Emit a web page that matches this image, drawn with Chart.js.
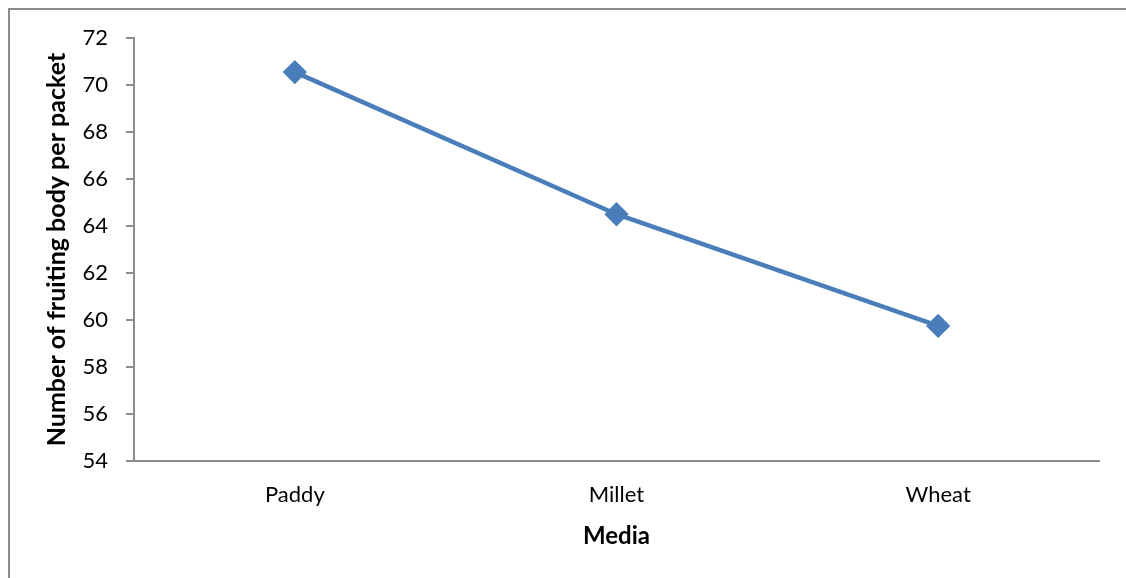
<!DOCTYPE html>
<html>
<head>
<meta charset="utf-8">
<script src="https://cdn.jsdelivr.net/npm/chart.js@4"></script>
<style>
  html, body { margin: 0; padding: 0; background: #fff; overflow: hidden; }
  .frame { position: absolute; left: 8px; top: 8px; width: 1200px; height: 700px; border: 2px solid #8c8c8c; box-sizing: border-box; }
  .wrap { position: absolute; left: 0; top: 0; width: 1126px; height: 578px; }
</style>
</head>
<body>
<div class="frame"></div>
<div class="wrap"><canvas id="chart" role="img" aria-label="Number of fruiting body per packet by media"></canvas></div>
<script>
// Data
const media = ['Paddy', 'Millet', 'Wheat'];
const fruitingBodies = [70.55, 64.5, 59.75];
const yTicks = [54, 56, 58, 60, 62, 64, 66, 68, 70, 72];

const axisGrey = '#8c8c8c';
const lineBlue = '#4a7ebb';

new Chart(document.getElementById('chart'), {
  type: 'line',
  data: {
    labels: media,
    datasets: [{
      label: 'Fruiting body',
      data: fruitingBodies,
      borderColor: lineBlue,
      backgroundColor: lineBlue,
      borderWidth: 4.5,
      pointStyle: 'rectRot',
      pointRadius: 9,
      pointHoverRadius: 9,
      tension: 0
    }]
  },
  options: {
    responsive: true,
    maintainAspectRatio: false,
    animation: false,
    layout: { padding: { left: 0, top: 38, right: 27, bottom: 0 } },
    plugins: {
      legend: { display: false },
      tooltip: { enabled: false }
    },
    scales: {
      x: {
        offset: true,
        grid: { display: false },
        border: { color: axisGrey, width: 2 },
        ticks: { color: '#000', padding: 13, font: { family: 'Lato', size: 22 } },
        title: {
          display: true,
          text: 'Media',
          color: '#000',
          font: { family: 'Lato', size: 24, weight: 'bold' },
          padding: { top: 0, bottom: 27 }
        },
        afterFit(scale) { scale.height = 117; }
      },
      y: {
        min: 54,
        max: 72,
        afterBuildTicks(scale) { scale.ticks = yTicks.map(v => ({ value: v })); },
        grid: { drawOnChartArea: false, tickLength: 8, color: axisGrey, lineWidth: 2 },
        border: { color: axisGrey, width: 2 },
        ticks: { color: '#000', padding: 18, font: { family: 'Lato', size: 22 } },
        title: {
          display: true,
          text: 'Number of fruiting body per packet',
          color: '#000',
          font: { family: 'Lato', size: 25, weight: 'bold' },
          padding: { top: 42, bottom: 0 }
        },
        afterFit(scale) { scale.width = 134; }
      }
    }
  }
});
</script>
</body>
</html>
